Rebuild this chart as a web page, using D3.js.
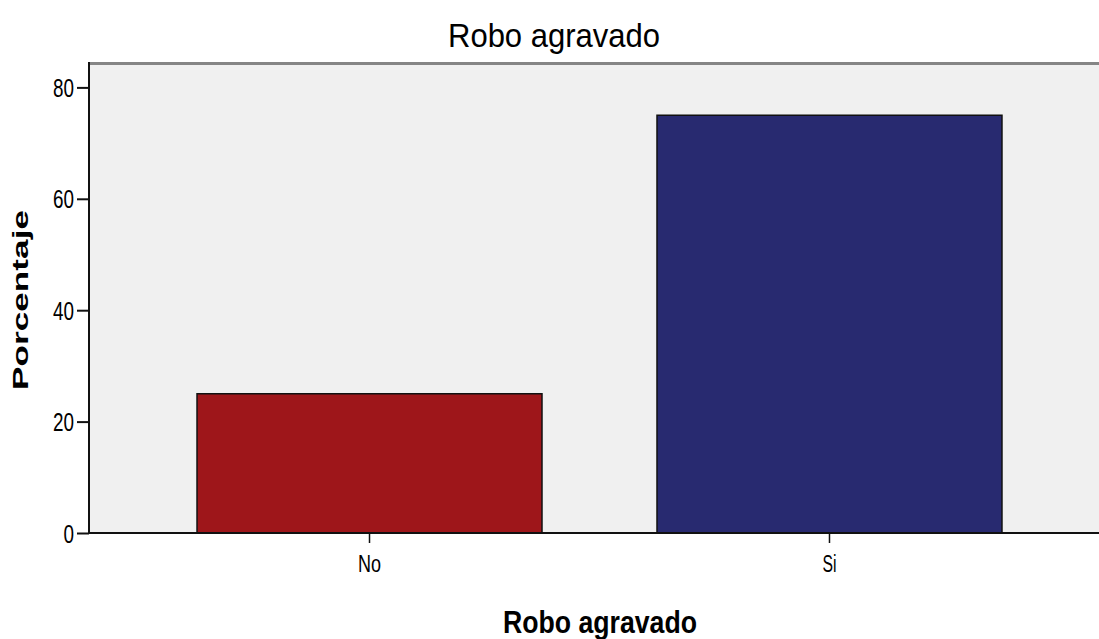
<!DOCTYPE html>
<html>
<head>
<meta charset="utf-8">
<script src="https://cdn.jsdelivr.net/npm/d3@7"></script>
<style>
  html, body { margin: 0; padding: 0; background: #ffffff; }
  svg { display: block; }
  text { font-family: "Liberation Sans Narrow", "Arial Narrow", "Liberation Sans", Arial, sans-serif; fill: #000; }
</style>
</head>
<body>
<svg id="chart" width="1099" height="639"></svg>
<script>
// ---- data ----
const categories = ["No", "Si"];
const values = [25, 75];
const barColors = ["#9e161a", "#282a70"];
const yTicks = [0, 20, 40, 60, 80];
const chartTitle = "Robo agravado";
const xTitle = "Robo agravado";
const yTitle = "Porcentaje";

// ---- layout ----
const W = 1099, H = 639;
const plot = { left: 89, right: 1099, top: 64, bottom: 533 };
const xLabelWidths = { "No": 23, "Si": 14 };

const svg = d3.select("#chart");

const y = d3.scaleLinear().domain([0, 84.2]).range([plot.bottom, plot.top]);
const x = d3.scaleBand().domain(categories)
  .range([88, 1111]).paddingInner(0.25).paddingOuter(0.237);

// background
svg.append("rect")
  .attr("x", plot.left).attr("y", plot.top)
  .attr("width", plot.right - plot.left).attr("height", plot.bottom - plot.top)
  .attr("fill", "#f0f0f0");

// top border
svg.append("line")
  .attr("x1", plot.left - 1).attr("x2", plot.right)
  .attr("y1", plot.top - 0.5).attr("y2", plot.top - 0.5)
  .attr("stroke", "#858585").attr("stroke-width", 3);

// bars
svg.append("g").selectAll("rect")
  .data(categories)
  .join("rect")
  .attr("x", d => x(d))
  .attr("y", (d, i) => y(values[i]))
  .attr("width", x.bandwidth())
  .attr("height", (d, i) => y(0) - y(values[i]))
  .attr("fill", (d, i) => barColors[i])
  .attr("stroke", "#111")
  .attr("stroke-width", 1.5);

// y axis
const yAxis = svg.append("g")
  .attr("transform", `translate(${plot.left},0)`)
  .call(d3.axisLeft(y).tickValues(yTicks).tickSize(12).tickPadding(3).tickFormat(d3.format("d")));
yAxis.select(".domain").attr("stroke", "#111").attr("stroke-width", 2)
  .attr("d", `M0,${plot.top - 2}V${plot.bottom}`);
yAxis.selectAll(".tick line").attr("stroke", "#111").attr("stroke-width", 2);
yAxis.selectAll(".tick text")
  .attr("font-size", 25)
  .attr("fill", "#111")
  .attr("dy", "0.36em")
  .attr("textLength", d => String(d).length * 10.5)
  .attr("lengthAdjust", "spacingAndGlyphs");

// x axis
const xAxis = svg.append("g")
  .attr("transform", `translate(0,${plot.bottom})`)
  .call(d3.axisBottom(x).tickSize(10).tickPadding(6));
xAxis.select(".domain").attr("stroke", "#111").attr("stroke-width", 2)
  .attr("d", `M${plot.left - 1},0H${plot.right}`);
xAxis.selectAll(".tick line").attr("stroke", "#111").attr("stroke-width", 1.5);
xAxis.selectAll(".tick text")
  .attr("font-size", 23)
  .attr("fill", "#111")
  .attr("y", 0)
  .attr("dy", null)
  .attr("transform", "translate(0,39)")
  .attr("textLength", d => xLabelWidths[d])
  .attr("lengthAdjust", "spacingAndGlyphs");

// title
svg.append("text")
  .attr("x", 554).attr("y", 47)
  .attr("text-anchor", "middle")
  .attr("font-size", 34)
  .attr("textLength", 212).attr("lengthAdjust", "spacingAndGlyphs")
  .text(chartTitle);

// x title
svg.append("text")
  .attr("x", 600).attr("y", 633)
  .attr("text-anchor", "middle")
  .attr("font-size", 32)
  .attr("font-weight", "bold")
  .attr("textLength", 194).attr("lengthAdjust", "spacingAndGlyphs")
  .text(xTitle);

// y title
svg.append("text")
  .attr("transform", "translate(28,300) rotate(-90)")
  .attr("text-anchor", "middle")
  .attr("font-size", 22)
  .attr("font-weight", "bold")
  .attr("textLength", 180).attr("lengthAdjust", "spacingAndGlyphs")
  .style("font-family", "'Liberation Sans', Arial, sans-serif")
  .text(yTitle);
</script>
</body>
</html>
